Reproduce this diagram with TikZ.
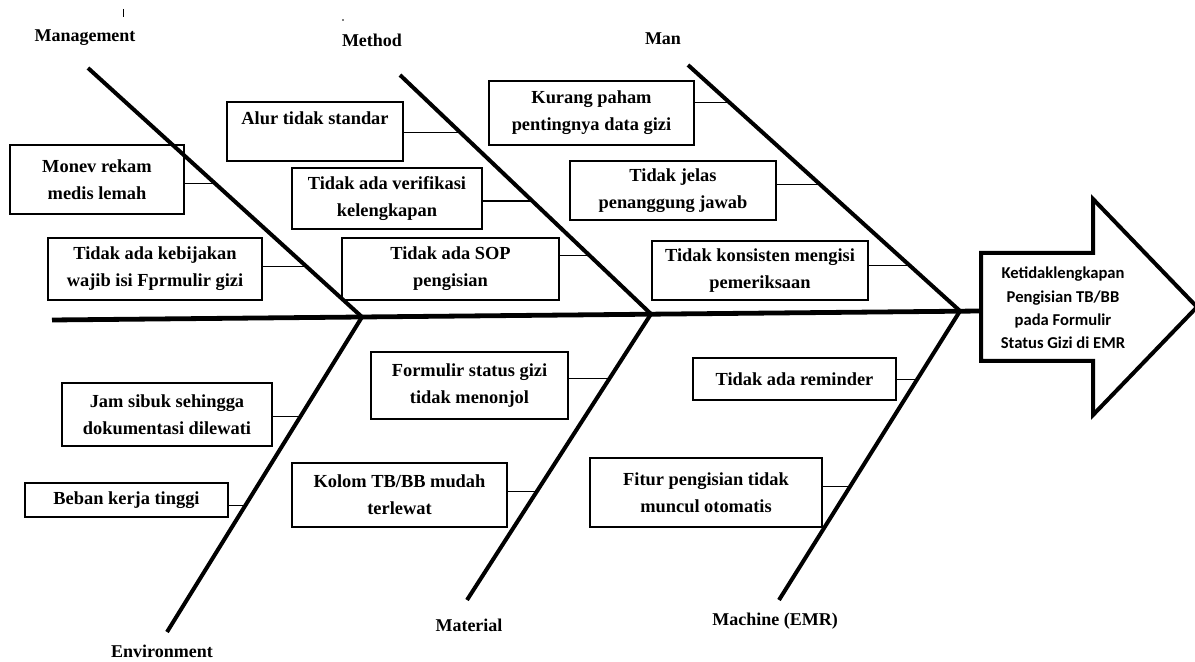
\documentclass[tikz,border=0pt]{standalone}
\usepackage{fontspec}
\setmainfont{Liberation Serif}
\newfontfamily\calfont{Carlito}
\tikzset{
  box/.style 2 args={draw, line width=1.3pt, align=center, inner sep=0pt,
    minimum width=#1, minimum height=#2, font=\bfseries\fontsize{9.2}{13.5}\selectfont},
  bone/.style={line width=2pt},
  spine/.style={line width=2.4pt},
  twig/.style={line width=0.6pt},
  cat/.style={anchor=base, font=\bfseries\fontsize{9}{11}\selectfont},
}

\begin{document}
\begin{tikzpicture}[x=0.5pt, y=-0.5pt]
		\useasboundingbox (0,0) rectangle (1195,662);
		%%%%% START %%%%%
		
		% stray marks
		\draw[line width=0.5pt] (123,9) -- (123,17);
		\fill (343,20) circle (0.8);
		
		% head
		\draw[line width=2pt, line join=miter] (981,253) -- (1093,253) -- (1093,199) -- (1197,307) -- (1093,415) -- (1093,361) -- (981,361) -- cycle;
		\node[font=\calfont\bfseries\fontsize{8.3}{11.7}\selectfont, align=center] (effect) at (1063,308) {Ketidaklengkapan\\Pengisian TB/BB\\pada Formulir\\Status Gizi di EMR};
		\coordinate (tail) at (981,311);
		
		% spine
		\coordinate (sp) at (52,320);
		\coordinate (j1) at (362,317);
		\coordinate (j2) at (651,314);
		\coordinate (j3) at (960,311);
		\draw[spine] (sp) -- (tail);
		
		% bones
		\coordinate (mg) at (88,68);
		\coordinate (me) at (400,75);
		\coordinate (ma) at (688,65);
		\coordinate (en) at (167,632);
		\coordinate (mt) at (467,600);
		\coordinate (mc) at (779,600);
		\draw[bone] (mg) -- (j1) coordinate[pos=0.464] (mg1) coordinate[pos=0.798] (mg2);
		\draw[bone] (me) -- (j2) coordinate[pos=0.241] (me1) coordinate[pos=0.527] (me2) coordinate[pos=0.755] (me3);
		\draw[bone] (ma) -- (j3) coordinate[pos=0.152] (ma1) coordinate[pos=0.486] (ma2) coordinate[pos=0.815] (ma3);
		\draw[bone] (j1) -- (en) coordinate[pos=0.315] (en1) coordinate[pos=0.598] (en2);
		\draw[bone] (j2) -- (mt) coordinate[pos=0.226] (mt1) coordinate[pos=0.622] (mt2);
		\draw[bone] (j3) -- (mc) coordinate[pos=0.238] (mc1) coordinate[pos=0.608] (mc2);
		
		% categories
		\node[cat] (lmg) at (85,42) {Management};
		\node[cat] (lme) at (372,47) {Method};
		\node[cat] (lma) at (663,45) {Man};
		\node[cat] (len) at (162,657) {Environment};
		\node[cat] (lmt) at (469,632) {Material};
		\node[cat] (lmc) at (775,625) {Machine (EMR)};
		
		% causes
		\node[box={87pt}{34.5pt}] (mon) at (97,179.5) {Monev rekam\\medis lemah};
		\node[box={107pt}{31pt}] (keb) at (155,269) {Tidak ada kebijakan\\wajib isi Fprmulir gizi};
		\node[box={88pt}{29.5pt}] (alur) at (315,131.5) {Alur tidak standar\\~};
		\node[box={95pt}{30.5pt}] (ver) at (387,198.5) {Tidak ada verifikasi\\kelengkapan};
		\node[box={108.5pt}{31pt}] (sop) at (450.5,269) {Tidak ada SOP\\pengisian};
		\node[box={102.5pt}{32pt}] (kur) at (591.5,113) {Kurang paham\\pentingnya data gizi};
		\node[box={103pt}{29.5pt}] (jel) at (673,190.5) {Tidak jelas\\penanggung jawab};
		\node[box={108pt}{29.5pt}] (kon) at (760,270.5) {Tidak konsisten mengisi\\pemeriksaan};
		\node[box={105pt}{31.5pt}] (jam) at (167,414.5) {Jam sibuk sehingga\\dokumentasi dilewati};
		\node[box={101.5pt}{17pt}] (beb) at (126.5,500) {Beban kerja tinggi};
		\node[box={98.5pt}{33.5pt}] (frm) at (469.5,385.5) {Formulir status gizi\\tidak menonjol};
		\node[box={107.5pt}{32pt}] (kol) at (399.5,495) {Kolom TB/BB mudah\\terlewat};
		\node[box={101.5pt}{21pt}] (rem) at (794.5,379) {Tidak ada reminder};
		\node[box={116pt}{34.5pt}] (fit) at (706,492.5) {Fitur pengisian tidak\\muncul otomatis};
		
		\draw[twig] (mon.east |- mg1) -- (mg1);
		\draw[twig] (keb.east |- mg2) -- (mg2);
		\draw[twig] (alur.east |- me1) -- (me1);
		\draw[twig] (ver.east |- me2) -- (me2);
		\draw[twig] (sop.east |- me3) -- (me3);
		\draw[twig] (kur.east |- ma1) -- (ma1);
		\draw[twig] (jel.east |- ma2) -- (ma2);
		\draw[twig] (kon.east |- ma3) -- (ma3);
		\draw[twig] (jam.east |- en1) -- (en1);
		\draw[twig] (beb.east |- en2) -- (en2);
		\draw[twig] (frm.east |- mt1) -- (mt1);
		\draw[twig] (kol.east |- mt2) -- (mt2);
		\draw[twig] (rem.east |- mc1) -- (mc1);
		\draw[twig] (fit.east |- mc2) -- (mc2);
		
		%%%%% END %%%%%
	\end{tikzpicture}
\end{document}
